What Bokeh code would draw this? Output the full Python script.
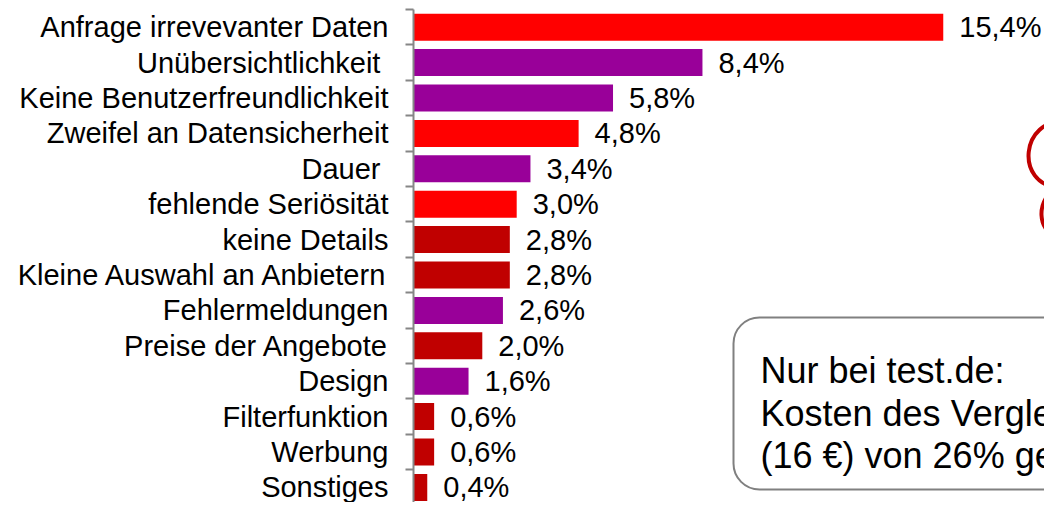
from bokeh.plotting import figure
from bokeh.models import Range1d, FixedTicker, ColumnDataSource, Label, BoxAnnotation
from bokeh.embed import file_html
from bokeh.resources import INLINE
from bokeh.core.properties import value

# ---- data ----
categories = [
    "Anfrage irrevevanter Daten",
    "Unübersichtlichkeit ",
    "Keine Benutzerfreundlichkeit",
    "Zweifel an Datensicherheit",
    "Dauer ",
    "fehlende Seriösität",
    "keine Details",
    "Kleine Auswahl an Anbietern",
    "Fehlermeldungen",
    "Preise der Angebote",
    "Design",
    "Filterfunktion",
    "Werbung",
    "Sonstiges",
]
values = [15.4, 8.4, 5.8, 4.8, 3.4, 3.0, 2.8, 2.8, 2.6, 2.0, 1.6, 0.6, 0.6, 0.4]
groups = ["red", "purple", "purple", "red", "purple", "red", "dark", "dark",
          "purple", "dark", "purple", "dark", "dark", "dark"]
value_labels = ["15,4%", "8,4%", "5,8%", "4,8%", "3,4%", "3,0%", "2,8%", "2,8%",
                "2,6%", "2,0%", "1,6%", "0,6%", "0,6%", "0,4%"]
note_lines = ["Nur bei test.de:", "Kosten des Vergleichs", "(16 €) von 26% genannt"]

palette = {"red": "#FF0000", "purple": "#990099", "dark": "#C00000"}

# ---- layout (canvas pixels -> data) ----
W, H = 1044, 502
TOP_PX = 9
X0_PX = 413.0      # canvas x of value 0 (axis line)
PX_PER_PCT = 34.4
ROW_PX = 35.4
ROW0_PX = TOP_PX + ROW_PX / 2   # canvas y of first row centre

def px2x(px):
    return (px - X0_PX) / PX_PER_PCT

def py2y(py):
    return (py - ROW0_PX) / ROW_PX

idx = list(range(len(categories)))
src = ColumnDataSource(dict(
    y=idx,
    value=values,
    label=value_labels,
    color=[palette[g] for g in groups],
))

p = figure(
    width=W, height=H,
    x_range=Range1d(0, px2x(W)),
    y_range=Range1d(py2y(H), py2y(TOP_PX)),
    x_axis_location=None,
    toolbar_location=None,
    output_backend="svg",
    min_border_left=int(X0_PX), min_border_right=0,
    min_border_top=TOP_PX, min_border_bottom=0,
    outline_line_color=None,
    background_fill_color="white",
    border_fill_color="white",
)
p.xgrid.visible = False
p.ygrid.visible = False

ax = p.yaxis[0]
ax.ticker = FixedTicker(ticks=idx, minor_ticks=[i - 0.5 for i in range(len(categories) + 1)])
ax.major_label_overrides = {i: c for i, c in zip(idx, categories)}
ax.major_tick_line_color = None
ax.major_tick_out = 0
ax.major_tick_in = 0
ax.minor_tick_line_color = "#868686"
ax.minor_tick_line_width = 2
ax.minor_tick_out = 8
ax.minor_tick_in = 0
ax.axis_line_color = "#868686"
ax.axis_line_width = 2
ax.major_label_standoff = 17
ax.major_label_text_font = "Liberation Sans"
ax.major_label_text_font_size = "29px"
ax.major_label_text_color = "black"

p.hbar(y="y", left=0, right="value", height=27 / ROW_PX, fill_color="color",
       line_color=None, source=src)

p.text(x="value", y="y", text="label", source=src, x_offset=16,
       text_align="left", text_baseline="middle",
       text_font=value("Liberation Sans"), text_font_size="29px",
       text_color="black")

# callout box
box = BoxAnnotation(left=px2x(733), right=px2x(1120), top=py2y(317), bottom=py2y(489),
                    fill_color="white", fill_alpha=1.0,
                    line_color="#808080", line_alpha=1.0, line_width=2,
                    border_radius=26)
p.add_layout(box)

for line, base in zip(note_lines, [370, 413, 455]):
    p.add_layout(Label(x=px2x(760), y=py2y(base), text=line,
                       text_font="Liberation Sans", text_font_size="36px",
                       text_color="black", text_baseline="alphabetic",
                       text_align="left"))

# red curved outline at right edge
p.bezier(
    x0=[px2x(1066), px2x(1058)], y0=[py2y(121), py2y(187)],
    x1=[px2x(1058), px2x(1066)], y1=[py2y(187), py2y(240)],
    cx0=[px2x(1020), px2x(1036)], cy0=[py2y(117), py2y(195)],
    cx1=[px2x(1014), px2x(1032)], cy1=[py2y(184), py2y(235)],
    line_color="#C00000", line_width=4,
)

open("out.html", "w").write(file_html(p, INLINE))
